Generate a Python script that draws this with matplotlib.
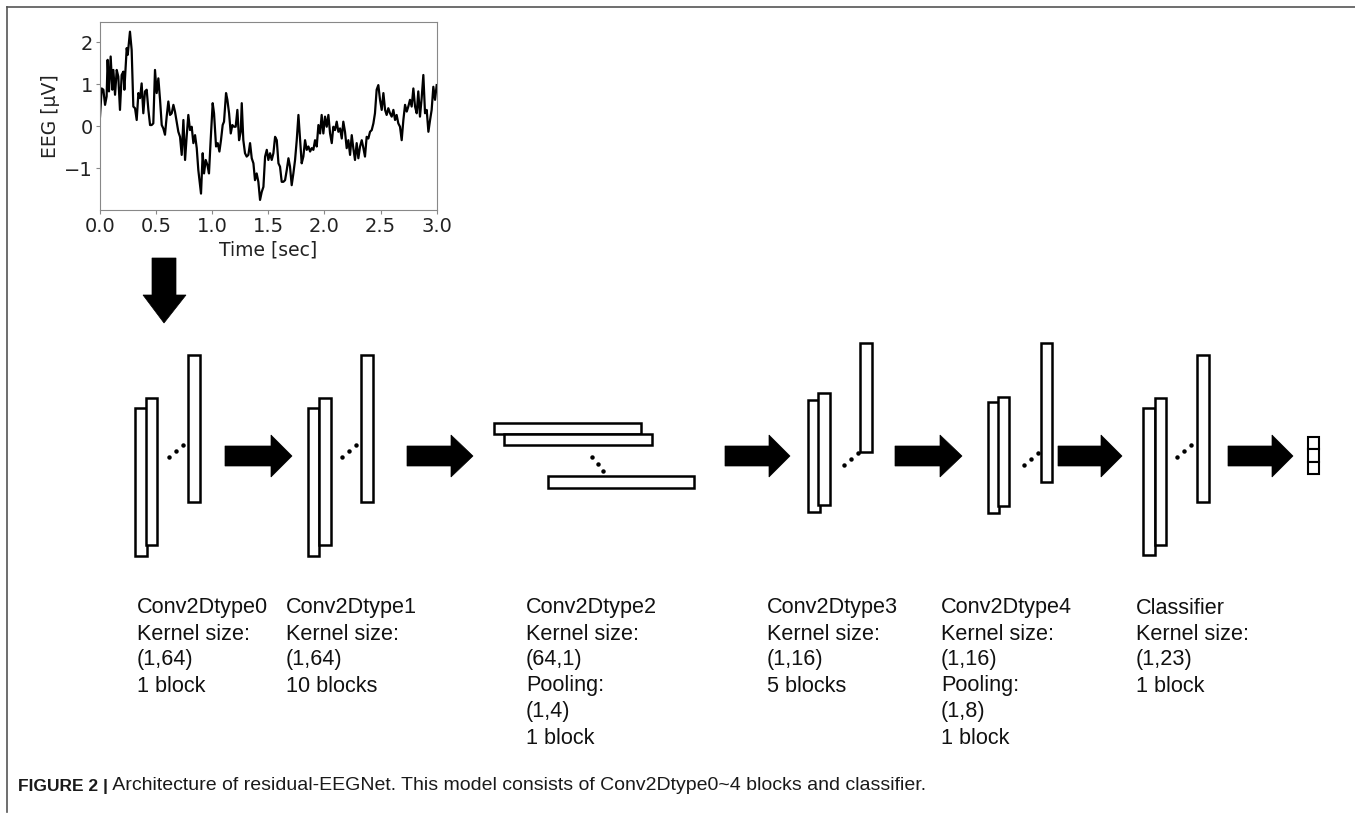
import matplotlib
matplotlib.use("Agg")
import matplotlib.pyplot as plt
from matplotlib.patches import Rectangle, Polygon

# ---------------- data ----------------
eeg_time = [0.000, 0.015, 0.030, 0.045, 0.059, 0.068, 0.080, 0.095, 0.110, 0.119,
            0.134, 0.149, 0.163, 0.178, 0.193, 0.208, 0.217, 0.238, 0.247, 0.267,
            0.282, 0.297, 0.312, 0.327, 0.342, 0.357, 0.371, 0.386, 0.401, 0.416,
            0.431, 0.446, 0.460, 0.475, 0.490, 0.505, 0.520, 0.535, 0.550, 0.564,
            0.579, 0.594, 0.609, 0.624, 0.639, 0.654, 0.668, 0.683, 0.698, 0.713,
            0.728, 0.743, 0.758, 0.772, 0.787, 0.802, 0.817, 0.832, 0.847, 0.862,
            0.876, 0.891, 0.900, 0.915, 0.927, 0.942, 0.957, 0.971, 0.986, 1.004,
            1.016, 1.034, 1.049, 1.064, 1.078, 1.093, 1.105, 1.123, 1.135, 1.150,
            1.165, 1.179, 1.194, 1.209, 1.224, 1.239, 1.254, 1.263, 1.277, 1.292,
            1.307, 1.322, 1.337, 1.352, 1.367, 1.381, 1.396, 1.411, 1.426, 1.441,
            1.456, 1.471, 1.486, 1.500, 1.515, 1.530, 1.545, 1.560, 1.575, 1.590,
            1.604, 1.619, 1.634, 1.649, 1.664, 1.679, 1.693, 1.708, 1.723, 1.738,
            1.753, 1.768, 1.783, 1.797, 1.812, 1.827, 1.842, 1.857, 1.872, 1.886,
            1.901, 1.916, 1.931, 1.946, 1.961, 1.975, 1.990, 2.005, 2.020, 2.035,
            2.050, 2.065, 2.079, 2.094, 2.109, 2.124, 2.139, 2.154, 2.168, 2.183,
            2.198, 2.213, 2.228, 2.243, 2.257, 2.272, 2.287, 2.302, 2.317, 2.332,
            2.347, 2.361, 2.376, 2.391, 2.406, 2.421, 2.436, 2.450, 2.465, 2.480,
            2.495, 2.510, 2.525, 2.540, 2.554, 2.569, 2.584, 2.599, 2.614, 2.629,
            2.643, 2.658, 2.673, 2.688, 2.703, 2.718, 2.733, 2.747, 2.762, 2.777,
            2.792, 2.807, 2.822, 2.836, 2.851, 2.866, 2.881, 2.896, 2.911, 2.926,
            2.941, 2.955, 2.970, 2.985, 3.000]
eeg_value = [0.23, 0.90, 0.87, 0.51, 0.71, 1.58, 0.83, 1.66, 0.87, 1.34,
             0.75, 1.34, 1.18, 0.39, 1.22, 1.30, 0.87, 1.86, 1.70, 2.25,
             1.82, 0.47, 0.43, 0.15, 0.79, 0.67, 1.02, 0.31, 0.83, 0.87,
             0.39, 0.03, 0.03, 0.07, 1.34, 0.79, 1.14, 0.63, 0.03, -0.05,
             -0.20, 0.23, 0.59, 0.27, 0.31, 0.51, 0.35, 0.11, -0.13, -0.25,
             -0.68, 0.15, -0.80, -0.25, 0.27, -0.09, -0.01, -0.40, -0.21, -0.52,
             -1.04, -1.40, -1.60, -0.64, -1.12, -0.80, -0.92, -1.12, -0.33, 0.55,
             0.31, -0.48, -0.40, -0.60, -0.33, 0.03, 0.11, 0.79, 0.63, 0.31,
             -0.17, 0.03, -0.01, -0.01, 0.39, -0.33, -0.13, 0.55, -0.33, -0.64,
             -0.72, -0.68, -0.40, -0.76, -0.88, -1.28, -1.12, -1.32, -1.75, -1.56,
             -1.44, -0.72, -0.56, -0.80, -0.64, -0.80, -0.64, -0.25, -0.33, -0.88,
             -0.96, -1.32, -1.32, -1.28, -1.04, -0.76, -0.96, -1.40, -1.12, -0.80,
             -0.33, 0.27, -0.33, -0.88, -0.72, -0.33, -0.56, -0.48, -0.60, -0.52,
             -0.56, -0.33, -0.48, 0.03, -0.17, 0.27, -0.17, 0.23, -0.01, 0.27,
             -0.17, -0.40, -0.01, -0.09, 0.11, -0.13, -0.05, -0.29, 0.11, -0.13,
             -0.52, -0.33, -0.68, -0.21, -0.52, -0.80, -0.40, -0.76, -0.48, -0.33,
             -0.52, -0.72, -0.25, -0.29, -0.13, -0.09, 0.07, 0.31, 0.87, 0.98,
             0.63, 0.39, 0.79, 0.39, 0.27, 0.43, 0.31, 0.23, 0.39, 0.15,
             0.27, 0.07, -0.01, -0.33, 0.15, 0.51, 0.35, 0.47, 0.63, 0.47,
             0.90, 0.47, 0.31, 0.83, 0.23, 0.67, 1.22, 0.31, 0.39, -0.13,
             0.15, 0.39, 0.94, 0.63, 0.98]
eeg_xticks = [0.0, 0.5, 1.0, 1.5, 2.0, 2.5, 3.0]
eeg_yticks = [-1, 0, 1, 2]

block_names = ["Conv2Dtype0", "Conv2Dtype1", "Conv2Dtype2",
               "Conv2Dtype3", "Conv2Dtype4", "Classifier"]
block_kernels = ["(1,64)", "(1,64)", "(64,1)", "(1,16)", "(1,16)", "(1,23)"]
block_pooling = [None, None, "(1,4)", None, "(1,8)", None]
block_counts = ["1 block", "10 blocks", "1 block", "5 blocks", "1 block", "1 block"]
caption_bold = "FIGURE 2 |"
caption_text = " Architecture of residual-EEGNet. This model consists of Conv2Dtype0~4 blocks and classifier."

# ---------------- layout (pixels) ----------------
W, H = 1355, 819
fig = plt.figure(figsize=(W / 100, H / 100), dpi=100)
fig.patch.set_facecolor("white")

ax = fig.add_axes([0, 0, 1, 1])
ax.set_xlim(0, W)
ax.set_ylim(H, 0)
ax.axis("off")

# frame lines
ax.plot([7, W], [7, 7], color="#555555", lw=1.2)
ax.plot([7, 7], [7, 812], color="#555555", lw=1.2)

# rectangle stacks: (x0, y0, x1, y1)
stacks = [
    [(135, 408, 147, 556), (146, 398, 157, 545), (188, 355, 200, 502)],
    [(308, 408, 319, 556), (319, 398, 331, 545), (361, 355, 373, 502)],
    [(494, 423, 641, 434), (504, 434, 652, 445), (548, 476, 694, 488)],
    [(808, 400, 820, 512), (818, 393, 830, 505), (860, 343, 872, 452)],
    [(988, 402, 999, 513), (998, 397, 1009, 506), (1041, 343, 1052, 482)],
    [(1143, 408, 1155, 555), (1155, 398, 1166, 545), (1197, 355, 1209, 502)],
]
dots = [
    [(169, 457), (176, 451), (183, 445)],
    [(342, 457), (349, 451), (356, 445)],
    [(592, 457), (598, 464), (603, 471)],
    [(844, 465), (851, 459), (858, 453)],
    [(1024, 465), (1031, 459), (1038, 453)],
    [(1177, 457), (1184, 451), (1191, 445)],
]
for rects, dts in zip(stacks, dots):
    for (x0, y0, x1, y1) in rects:
        ax.add_patch(Rectangle((x0, y0), x1 - x0, y1 - y0, facecolor="white",
                               edgecolor="black", lw=1.8, zorder=3))
    for (dx, dy) in dts:
        ax.plot(dx, dy, "o", color="black", ms=2.2, zorder=4)

# right arrows: (tail x, head start x, tip x), shared center y
arrows = [(225, 271, 292), (407, 451, 473), (725, 769, 790),
          (895, 940, 962), (1058, 1101, 1122), (1228, 1272, 1293)]
ay = 456
for (x0, xh, x1) in arrows:
    pts = [(x0, ay - 10), (xh, ay - 10), (xh, ay - 21), (x1, ay),
           (xh, ay + 21), (xh, ay + 10), (x0, ay + 10)]
    ax.add_patch(Polygon(pts, closed=True, facecolor="black", edgecolor="black", lw=0.5))

# down arrow
pts = [(152, 258), (176, 258), (176, 295), (186, 295), (164, 323),
       (143, 295), (152, 295)]
ax.add_patch(Polygon(pts, closed=True, facecolor="black", edgecolor="black", lw=0.5))

# output squares
for k in range(3):
    ax.add_patch(Rectangle((1308, 437 + 12.3 * k), 11, 12.3, facecolor="white",
                           edgecolor="black", lw=1.5, zorder=3))

# block texts
col_x = [137, 286, 526, 767, 941, 1136]
line_h = 26
for cx, name, ker, pool, cnt in zip(col_x, block_names, block_kernels,
                                    block_pooling, block_counts):
    lines = [name, "Kernel size:", ker]
    if pool is not None:
        lines += ["Pooling:", pool]
    lines.append(cnt)
    for i, s in enumerate(lines):
        ax.text(cx, 608 + i * line_h, s, family="Liberation Sans", fontsize=15.6,
                ha="left", va="center", color="#111111")

# caption
t1 = ax.text(18, 786, caption_bold, family="Liberation Sans", fontsize=12.5,
             fontweight="bold", ha="left", va="center", color="#1a1a1a")
fig.canvas.draw()
bb = t1.get_window_extent()
x_after = bb.x1
ax.text(x_after, 786, caption_text, family="Liberation Sans", fontsize=14,
        ha="left", va="center", color="#1a1a1a")

# ---------------- EEG inset ----------------
eax = fig.add_axes([100 / W, 1 - 210 / H, 336.7 / W, 188 / H])
eax.plot(eeg_time, eeg_value, color="black", lw=1.6)
eax.set_xlim(0, 3.0)
eax.set_ylim(-1.99, 2.48)
eax.set_xticks(eeg_xticks)
eax.set_yticks(eeg_yticks)
eax.set_xticklabels([f"{v:.1f}" for v in eeg_xticks])
eax.set_yticklabels(["\u22121", "0", "1", "2"])
eax.tick_params(labelsize=14, colors="#222222", length=3, color="#888888", pad=2)
for sp in eax.spines.values():
    sp.set_color("#888888")
eax.set_xlabel("Time [sec]", fontsize=13.5, color="#222222", labelpad=3)
eax.set_ylabel("EEG [\u03bcV]", fontsize=13.5, color="#222222", labelpad=3)

fig.savefig("out.png", dpi=100, facecolor="white")
